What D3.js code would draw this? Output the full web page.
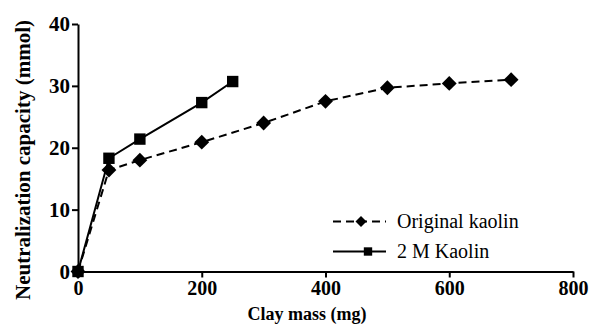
<!DOCTYPE html>
<html>
<head>
<meta charset="utf-8">
<script src="https://cdn.jsdelivr.net/npm/d3@7"></script>
<style>
  body { margin: 0; background: #fff; }
</style>
</head>
<body>
<div id="chart"></div>
<script>
// clay mass (mg) and neutralization capacity (mmol)
const originalX = [0, 50, 100, 200, 300, 400, 500, 600, 700]
const originalY = [0, 16.4, 18.0, 20.9, 24.0, 27.5, 29.7, 30.4, 31.0]
const kaolin2MX = [0, 50, 100, 200, 250]
const kaolin2MY = [0, 18.3, 21.4, 27.3, 30.7]
const xTicks = [0, 200, 400, 600, 800]
const yTicks = [0, 10, 20, 30, 40]
const seriesNames = ['Original kaolin', '2 M Kaolin']

const serif = "'Liberation Serif', 'DejaVu Serif', 'Noto Serif', Times, serif"
const width = 590, height = 328
const svg = d3.select('#chart').append('svg')
  .attr('width', width)
  .attr('height', height)
  .attr('font-family', serif)

const x = d3.scaleLinear().domain([0, 800]).range([78, 573])
const y = d3.scaleLinear().domain([0, 40]).range([271.5, 24])

// axes
const xAxis = svg.append('g')
  .attr('transform', `translate(0,${y(0)})`)
  .call(d3.axisBottom(x).tickValues(xTicks).tickSize(6).tickPadding(3).tickSizeOuter(0))
const yAxis = svg.append('g')
  .attr('transform', `translate(${x(0)},0)`)
  .call(d3.axisLeft(y).tickValues(yTicks).tickSize(6).tickPadding(2).tickSizeOuter(0))

for (let ax of [xAxis, yAxis]) {
  ax.attr('font-family', serif)
  ax.select('.domain').attr('stroke', '#000').attr('stroke-width', 2)
  ax.selectAll('.tick line').attr('stroke', '#000').attr('stroke-width', 2)
  ax.selectAll('.tick text')
    .attr('font-weight', 'bold')
    .attr('fill', '#000')
}
xAxis.selectAll('.tick text').attr('font-size', 20)
yAxis.selectAll('.tick text').attr('font-size', 21)

// axis titles
svg.append('text')
  .attr('x', 307)
  .attr('y', 320)
  .attr('text-anchor', 'middle')
  .attr('font-size', 18)
  .attr('font-weight', 'bold')
  .text('Clay mass (mg)')
svg.append('text')
  .attr('transform', 'translate(30,160) rotate(-90)')
  .attr('text-anchor', 'middle')
  .attr('font-size', 21)
  .attr('font-weight', 'bold')
  .text('Neutralization capacity (mmol)')

const diamond = d3.symbol().type(d3.symbolSquare)
const square = d3.symbol().type(d3.symbolSquare)

function drawSeries(xs, ys, dash, marker, size, rot) {
  const pts = xs.map((v, i) => [v, ys[i]])
  const line = d3.line().x(d => x(d[0])).y(d => y(d[1]))
  svg.append('path')
    .datum(pts)
    .attr('d', line)
    .attr('fill', 'none')
    .attr('stroke', '#000')
    .attr('stroke-width', 2)
    .attr('stroke-dasharray', dash)
  svg.selectAll(null)
    .data(pts)
    .enter().append('path')
    .attr('d', marker.size(size))
    .attr('transform', d => `translate(${x(d[0])},${y(d[1])}) rotate(${rot})`)
    .attr('fill', '#000')
}

drawSeries(originalX, originalY, '8,5', diamond, 110, 45)
drawSeries(kaolin2MX, kaolin2MY, null, square, 130, 0)

// legend
const legend = svg.append('g')
const legendRows = [
  {name: seriesNames[0], dash: '8,5', marker: diamond, size: 60, rot: 45, cy: 221.5, mx: 361},
  {name: seriesNames[1], dash: null, marker: square, size: 70, rot: 0, cy: 251.5, mx: 368}
]
legendRows.forEach(r => {
  legend.append('line')
    .attr('x1', 333).attr('x2', 386)
    .attr('y1', r.cy).attr('y2', r.cy)
    .attr('stroke', '#000')
    .attr('stroke-width', 2)
    .attr('stroke-dasharray', r.dash)
  legend.append('path')
    .attr('d', r.marker.size(r.size)())
    .attr('transform', `translate(${r.mx},${r.cy}) rotate(${r.rot})`)
    .attr('fill', '#000')
  legend.append('text')
    .attr('x', 397)
    .attr('y', r.cy + 6)
    .attr('font-size', 20)
    .text(r.name)
})
</script>
</body>
</html>
